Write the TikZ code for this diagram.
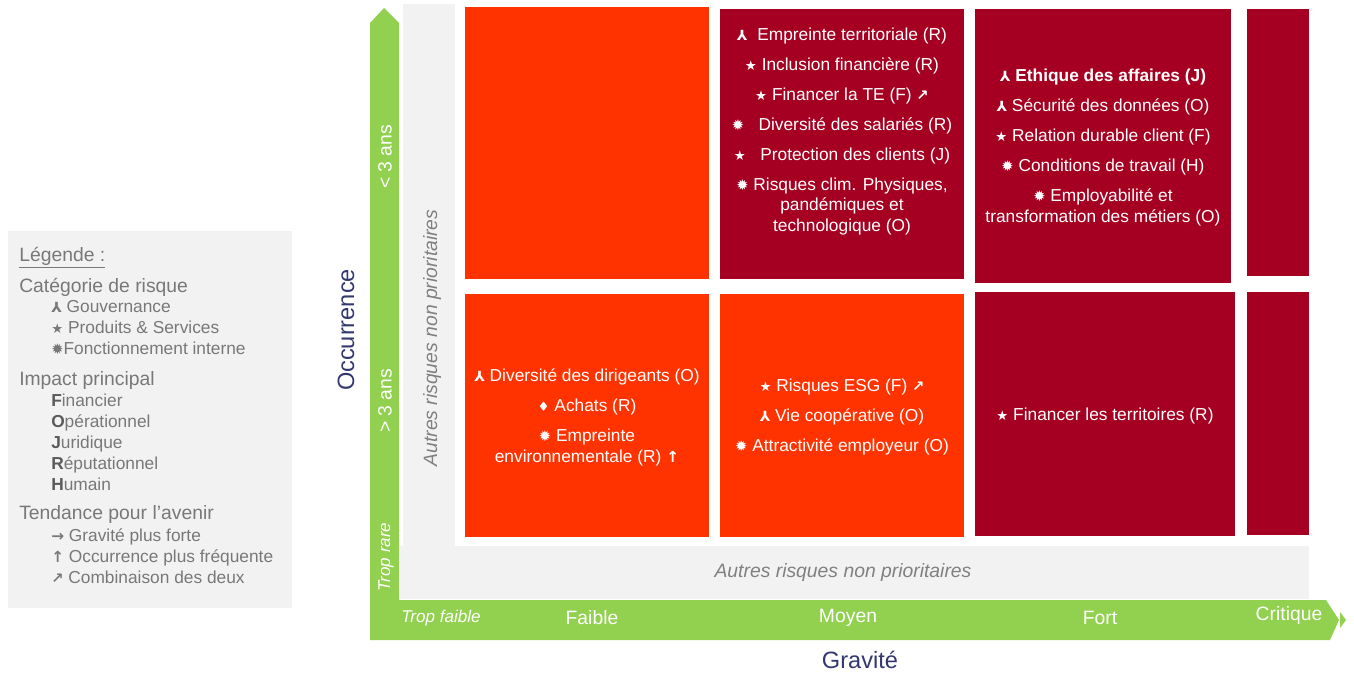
\documentclass[tikz,border=0pt]{standalone}
\usepackage{fontspec}
\setmainfont{Liberation Sans}
\newfontfamily\symfont{DejaVu Sans}
\usepackage{xcolor}
\definecolor{RiskOrange}{RGB}{255,51,0}
\definecolor{RiskRed}{RGB}{165,0,33}
\definecolor{AxisGreen}{RGB}{146,208,80}
\definecolor{BandGray}{RGB}{242,242,242}
\definecolor{TextGray}{RGB}{128,128,128}
\definecolor{LegendGray}{RGB}{120,120,120}
\definecolor{LegendDark}{RGB}{90,90,90}
\definecolor{AxisNavy}{RGB}{50,55,110}
\usepackage{tikz}
\usetikzlibrary{positioning}

%% Symbols
\newcommand{\sgouv}{{\symfont\bfseries\fontsize{10.5}{10}\selectfont ⅄}}
\newcommand{\sprod}{{\symfont\fontsize{10}{10}\selectfont ★}}
\newcommand{\sfonc}{{\symfont\fontsize{11}{10}\selectfont ✹}}
\newcommand{\sachat}{{\symfont\fontsize{10}{10}\selectfont ♦}}
\newcommand{\tgrav}{{\symfont\bfseries\fontsize{11.5}{10}\selectfont →}}
\newcommand{\tocc}{{\symfont\bfseries\fontsize{11.5}{10}\selectfont ↑}}
\newcommand{\tboth}{{\symfont\bfseries\fontsize{11}{10}\selectfont ↗}}

\tikzset{
  % Matrix cells
  cell/.style={rectangle, inner sep=0pt, anchor=north west},
  cell orange/.style={cell, fill=RiskOrange},
  cell red/.style={cell, fill=RiskRed},
  % Cell texts
  celltext/.style={
    text=white, align=center, inner sep=0pt,
    font=\fontsize{13}{15.4}\selectfont
  },
  % Axis texts
  axislabel/.style={text=white, inner sep=0pt, font=\fontsize{14.5}{17}\selectfont},
  axisitalic/.style={text=white, inner sep=0pt, font=\fontsize{12.8}{15}\selectfont\itshape},
  axistitle/.style={text=AxisNavy, inner sep=0pt, font=\fontsize{17.7}{20}\selectfont},
  otherlabel/.style={text=TextGray, inner sep=0pt, font=\fontsize{14.5}{17}\selectfont\itshape},
  % Legend
  leghead/.style={text=LegendGray, anchor=west, inner sep=0pt, font=\fontsize{14.5}{17}\selectfont},
  legitems/.style={text=LegendGray, anchor=west, align=left, inner sep=0pt,
    font=\fontsize{13}{15.75}\selectfont},
}

\begin{document}
\begin{tikzpicture}[x=0.75pt, y=-0.75pt]
  \useasboundingbox (0,0) rectangle (1354,674);

  %% Legend
  \fill[BandGray] (8,231) rectangle (292,608);
  \node[leghead] (lgtitle) at (19,258) {\underline{Légende :}};
  \node[leghead] (lgcat) at (19,287) {Catégorie de risque};
  \node[legitems] (lgcatitems) at (51,328)
    {\sgouv\ Gouvernance\\ \sprod\ Produits \& Services\\ \sfonc Fonctionnement interne};
  \node[leghead] (lgimp) at (19,380) {Impact principal};
  \node[legitems] (lgimpitems) at (51,442)
    {\textcolor{LegendDark}{\textbf{F}}inancier\\ \textcolor{LegendDark}{\textbf{O}}pérationnel\\
     \textcolor{LegendDark}{\textbf{J}}uridique\\ \textcolor{LegendDark}{\textbf{R}}éputationnel\\
     \textcolor{LegendDark}{\textbf{H}}umain};
  \node[leghead] (lgtend) at (19,514) {Tendance pour l’avenir};
  \node[legitems] (lgtenditems) at (51,556)
    {\tgrav\ Gravité plus forte\\ \tocc\ Occurrence plus fréquente\\ \tboth\ Combinaison des deux};

  %% Axes (green L arrow)
  \fill[AxisGreen] (370,640) -- (370,23) -- (384,8) -- (399,23) -- (399,600)
    -- (1326,600) -- (1339,620) -- (1330,640) -- cycle;
  \fill[AxisGreen] (1340,612) -- (1346,620) -- (1340,628) -- cycle;

  %% Non priority bands
  \fill[BandGray] (403,4) rectangle (455,546);
  \fill[BandGray] (399,546) rectangle (1309,599);

  %% Cells
  \node[cell orange, minimum width=244*0.75pt, minimum height=272*0.75pt] (c11) at (465,7) {};
  \node[cell orange, minimum width=244*0.75pt, minimum height=243*0.75pt] (c21) at (465,294) {};
  \node[cell red, minimum width=244*0.75pt, minimum height=270*0.75pt] (c12) at (720,9) {};
  \node[cell orange, minimum width=244*0.75pt, minimum height=243*0.75pt] (c22) at (720,294) {};
  \node[cell red, minimum width=256*0.75pt, minimum height=274*0.75pt] (c13) at (975,9) {};
  \node[cell red, minimum width=260*0.75pt, minimum height=244*0.75pt] (c23) at (975,292) {};
  \node[cell red, minimum width=62*0.75pt, minimum height=267*0.75pt] (c14) at (1247,9) {};
  \node[cell red, minimum width=62*0.75pt, minimum height=243*0.75pt] (c24) at (1247,292) {};

  %% Cell texts
  \node[celltext] (t12) at (842,131.5)
    {\sgouv\ \ Empreinte territoriale (R)\\[7.1pt]
     \sprod\ Inclusion financière (R)\\[7.1pt]
     \sprod\ Financer la TE (F) \tboth\\[7.1pt]
     \sfonc\ \ \ Diversité des salariés (R)\\[7.1pt]
     \sprod\ \ \ Protection des clients (J)\\[7.1pt]
     \sfonc\ Risques clim. Physiques,\\ pandémiques et\\ technologique (O)};
  \node[celltext] (t13) at (1103,147.5)
    {\sgouv\ \textbf{Ethique des affaires (J)}\\[7.1pt]
     \sgouv\ Sécurité des données (O)\\[7.1pt]
     \sprod\ Relation durable client (F)\\[7.1pt]
     \sfonc\ Conditions de travail (H)\\[7.1pt]
     \sfonc\ Employabilité et\\ transformation des métiers (O)};
  \node[celltext] (t21) at (587,417.5)
    {\sgouv\ Diversité des dirigeants (O)\\[7.1pt]
     \sachat\ Achats (R)\\[7.1pt]
     \sfonc\ Empreinte\\ environnementale (R) \tocc};
  \node[celltext] (t22) at (842,417)
    {\sprod\ Risques ESG (F) \tboth\\[7.1pt]
     \sgouv\ Vie coopérative (O)\\[7.1pt]
     \sfonc\ Attractivité employeur (O)};
  \node[celltext] (t23) at (1105,416) {\sprod\ Financer les territoires (R)};

  %% Axis labels
  \node[axislabel, rotate=90] (lt3) at (385,157) {< 3 ans};
  \node[axislabel, rotate=90] (gt3) at (385,401) {> 3 ans};
  \node[axisitalic, rotate=90] (rare) at (386,557) {Trop rare};
  \node[axisitalic] (tfaible) at (441,618) {Trop faible};
  \node[axislabel] (faible) at (592,618) {Faible};
  \node[axislabel] (moyen) at (848,618) {Moyen};
  \node[axislabel] (fort) at (1100,618) {Fort};
  \node[axislabel] (critique) at (1289,615) {Critique};

  %% Other risks
  \node[otherlabel, rotate=90] (othv) at (432,338) {Autres risques non prioritaires};
  \node[otherlabel] (othh) at (843,572) {Autres risques non prioritaires};

  %% Axis titles
  \node[axistitle, rotate=90] (occ) at (346,330) {Occurrence};
  \node[axistitle] (grav) at (860,660) {Gravité};

\end{tikzpicture}
\end{document}
